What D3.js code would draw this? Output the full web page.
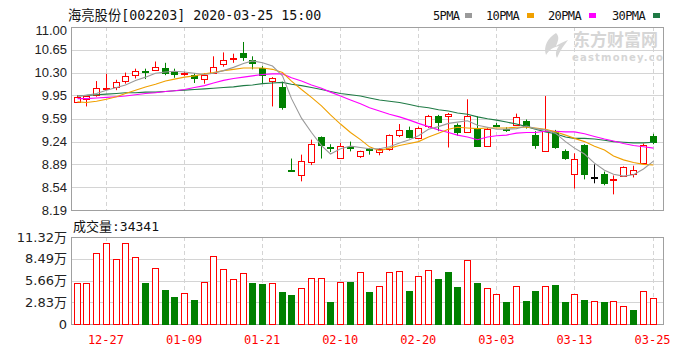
<!DOCTYPE html>
<html>
<head>
<meta charset="utf-8">
<script src="https://cdnjs.cloudflare.com/ajax/libs/d3/7.8.5/d3.min.js"></script>
<style>
  body { margin: 0; background: #fff; }
  svg { display: block; }
</style>
</head>
<body>
<script>
// ---- data ----
var dates = ["12-24","12-25","12-26","12-27","12-30","12-31","01-02","01-03","01-06","01-07",
             "01-08","01-09","01-10","01-13","01-14","01-15","01-16","01-17","01-20","01-21",
             "01-22","01-23","02-03","02-04","02-05","02-06","02-07","02-10","02-11","02-12",
             "02-13","02-14","02-17","02-18","02-19","02-20","02-21","02-24","02-25","02-26",
             "02-27","02-28","03-02","03-03","03-04","03-05","03-06","03-09","03-10","03-11",
             "03-12","03-13","03-16","03-17","03-18","03-19","03-20","03-23","03-24","03-25"];
var open  = [9.86,9.89,9.96,10.05,10.08,10.18,10.27,10.32,10.33,10.37,
             10.33,10.27,10.27,10.21,10.30,10.43,10.51,10.60,10.50,10.37,
             10.17,10.08,8.80,8.74,8.92,9.31,9.15,9.00,9.16,9.01,
             9.12,9.08,9.13,9.35,9.42,9.29,9.47,9.64,9.64,9.50,
             9.39,9.43,9.17,9.50,9.44,9.50,9.55,9.34,9.10,9.40,
             9.10,8.75,9.19,8.70,8.74,8.65,8.71,8.75,8.91,9.33];
var high  = [9.95,9.95,10.17,10.28,10.19,10.30,10.36,10.36,10.47,10.45,
             10.36,10.31,10.29,10.29,10.55,10.61,10.59,10.77,10.55,10.40,
             10.23,10.16,8.98,9.04,9.27,9.32,9.20,9.22,9.24,9.10,
             9.14,9.14,9.35,9.51,9.47,9.47,9.65,9.65,9.68,9.52,
             9.89,9.63,9.45,9.53,9.46,9.67,9.58,9.40,9.94,9.42,
             9.12,9.06,9.20,8.89,8.78,8.72,8.86,8.87,9.21,9.36];
var low   = [9.85,9.78,9.93,10.04,10.03,10.13,10.21,10.20,10.33,10.26,
             10.22,10.25,10.14,10.13,10.29,10.39,10.45,10.48,10.35,10.14,
             9.78,9.73,8.79,8.63,8.88,8.98,9.08,9.00,9.09,8.99,
             9.04,9.03,9.10,9.31,9.29,9.28,9.45,9.40,9.15,9.33,
             9.39,9.17,9.17,9.47,9.39,9.50,9.44,9.13,9.10,9.13,
             8.96,8.52,8.66,8.60,8.57,8.43,8.70,8.69,8.90,9.20];
var close = [9.93,9.94,10.06,10.06,10.16,10.25,10.33,10.31,10.38,10.29,
             10.28,10.29,10.22,10.27,10.39,10.49,10.52,10.54,10.45,10.26,
             10.21,9.77,8.79,8.95,9.20,9.18,9.14,9.18,9.15,9.09,
             9.10,9.13,9.34,9.42,9.32,9.45,9.63,9.55,9.67,9.40,
             9.63,9.17,9.43,9.49,9.43,9.62,9.47,9.19,9.40,9.16,
             8.99,8.98,8.74,8.70,8.60,8.67,8.85,8.81,9.19,9.24];
var ma5   = [9.94,9.95,9.98,10.03,10.07,10.11,10.18,10.23,10.29,10.31,
             10.32,10.31,10.29,10.27,10.29,10.33,10.38,10.44,10.48,10.45,
             10.40,10.25,9.90,9.60,9.38,9.18,9.05,9.13,9.17,9.15,
             9.13,9.13,9.16,9.22,9.27,9.33,9.43,9.47,9.52,9.54,
             9.56,9.49,9.46,9.43,9.43,9.44,9.48,9.44,9.42,9.37,
             9.24,9.14,9.05,8.91,8.80,8.74,8.71,8.73,8.82,8.94];
var ma10  = [9.85,9.84,9.86,9.89,9.93,9.98,10.03,10.08,10.12,10.17,
             10.20,10.23,10.25,10.28,10.30,10.33,10.35,10.37,10.37,10.37,
             10.35,10.30,10.17,10.04,9.92,9.79,9.65,9.51,9.38,9.27,
             9.16,9.10,9.14,9.18,9.21,9.24,9.31,9.37,9.43,9.46,
             9.45,9.44,9.45,9.45,9.45,9.46,9.46,9.45,9.43,9.39,
             9.34,9.29,9.24,9.17,9.11,9.02,8.96,8.92,8.89,8.88];
var ma20  = [9.90,9.90,9.91,9.92,9.93,9.94,9.96,9.98,9.99,10.01,
             10.02,10.04,10.07,10.10,10.14,10.18,10.21,10.23,10.25,10.27,
             10.28,10.28,10.22,10.17,10.11,10.06,10.00,9.94,9.88,9.82,
             9.76,9.71,9.66,9.62,9.57,9.52,9.47,9.42,9.38,9.34,
             9.31,9.27,9.31,9.33,9.34,9.37,9.38,9.38,9.40,9.40,
             9.39,9.39,9.36,9.32,9.28,9.25,9.21,9.18,9.16,9.14];
var ma30  = [9.94,9.95,9.96,9.97,9.98,9.99,9.99,10.00,10.00,10.01,
             10.02,10.03,10.04,10.05,10.06,10.07,10.08,10.10,10.11,10.13,
             10.14,10.15,10.12,10.10,10.07,10.04,10.01,9.98,9.96,9.94,
             9.91,9.88,9.86,9.84,9.81,9.78,9.76,9.73,9.71,9.68,
             9.66,9.62,9.59,9.57,9.54,9.51,9.47,9.43,9.39,9.36,
             9.31,9.29,9.29,9.28,9.26,9.24,9.23,9.22,9.22,9.23];
// volume in 万 shares, and the colour the bar is drawn in (r = up, g = down)
var volume = [5.38,5.38,9.26,10.55,8.52,10.55,8.70,5.30,7.23,4.48,
              3.49,4.00,3.06,5.47,8.87,7.10,5.81,6.59,5.30,5.17,
              5.30,4.18,3.83,4.65,5.94,5.94,2.84,5.47,5.47,6.72,
              4.13,4.95,6.72,6.89,4.30,6.24,7.06,5.90,6.76,4.78,
              8.35,5.30,4.74,3.96,2.80,4.91,3.01,4.30,4.91,5.12,
              2.84,3.96,3.14,3.01,2.84,3.01,2.32,1.85,4.30,3.43];
var volDir = ["r","r","r","r","r","r","r","g","r","g",
              "g","r","g","r","r","r","r","r","g","g",
              "r","g","g","r","r","r","g","r","g","r",
              "g","r","r","r","g","r","r","g","g","g",
              "r","g","r","r","g","r","g","g","r","g",
              "g","r","g","r","g","r","r","g","r","r"];
var priceTicks = [8.19, 8.54, 8.89, 9.24, 9.59, 9.95, 10.30, 10.65, 11.00];
var volTicks   = [0, 2.83, 5.66, 8.49, 11.32];
var dateTicks  = ["12-27","01-09","01-21","02-10","02-20","03-03","03-13","03-25"];
var maNames    = ["5PMA", "10PMA", "20PMA", "30PMA"];
var lastVolume = 34341;

// ---- layout ----
var W = 700, H = 350;
var left = 71, right = 663;
var pTop = 27, pBot = 210, vTop = 237, vBot = 324;
var RED = "#ff0000", GREEN = "#008000";
var maColors = ["#9a9a9a", "#f0a000", "#ff00ff", "#1f7a45"];

var svg = d3.select("body").append("svg")
    .attr("width", W).attr("height", H)
    .style("font-family", "'DejaVu Sans', sans-serif");

var x = d3.scaleBand().domain(dates).range([71.8, 657.4]);
function cx(d) { return Math.round(x(d) + x.bandwidth() / 2); }
var y = d3.scaleLinear().domain([8.19, 11.00]).range([pBot, pTop]);
var yv = d3.scaleLinear().domain([0, 11.32]).range([vBot, vTop]);

// grid
var grid = svg.append("g").attr("stroke", "#d4d4d4").attr("stroke-width", 1);
grid.selectAll(".hp").data(priceTicks).enter().append("line")
    .attr("x1", left).attr("x2", right)
    .attr("y1", d => Math.round(y(d)) + 0.5).attr("y2", d => Math.round(y(d)) + 0.5);
grid.selectAll(".hv").data(volTicks).enter().append("line")
    .attr("x1", left).attr("x2", right)
    .attr("y1", d => Math.round(yv(d)) + 0.5).attr("y2", d => Math.round(yv(d)) + 0.5);
[[pTop, pBot], [vTop, vBot]].forEach(function(r) {
  grid.append("g").selectAll("line").data(dateTicks).enter().append("line")
      .attr("x1", d => cx(d) + 0.5).attr("x2", d => cx(d) + 0.5)
      .attr("y1", r[0]).attr("y2", r[1])
      .attr("stroke-dasharray", "4,3");
});

// watermark
var wm = svg.append("g").attr("fill", "#d6d6d6");
wm.append("path")
  .attr("d", "M556,33 C548,38 543,46 546,55 C549,50 553,47 559,46 C556,50 555,54 557,58 C560,50 565,44 568,40 C563,42 559,44 556,46 C558,41 560,37 556,33 Z");
wm.append("text").attr("x", 573).attr("y", 46)
  .style("font-family", "'Noto Sans CJK SC', sans-serif")
  .style("font-size", "17px").style("font-weight", "bold")
  .text("东方财富网");
wm.append("text").attr("x", 572).attr("y", 61)
  .style("font-size", "10px").style("font-weight", "bold").style("letter-spacing", "1.2px")
  .text("eastmoney.com");
svg.append("rect").attr("x", right + 0.5).attr("y", 28).attr("width", 30).attr("height", 40).attr("fill", "#fff");

// frames
svg.append("rect").attr("x", left + 0.5).attr("y", pTop + 0.5)
    .attr("width", right - left).attr("height", pBot - pTop)
    .attr("fill", "none").attr("stroke", "#a0a0a0");
svg.append("rect").attr("x", left + 0.5).attr("y", vTop + 0.5)
    .attr("width", right - left).attr("height", vBot - vTop)
    .attr("fill", "none").attr("stroke", "#a0a0a0");

// axes
var yAxis = svg.append("g").attr("transform", "translate(" + left + ",0)")
    .call(d3.axisLeft(y).tickValues(priceTicks).tickSize(0).tickPadding(4)
      .tickFormat(d3.format(".2f")));
var vAxis = svg.append("g").attr("transform", "translate(" + left + ",0)")
    .call(d3.axisLeft(yv).tickValues(volTicks).tickSize(0).tickPadding(4)
      .tickFormat(d => d === 0 ? "0" : d.toFixed(2) + "万"));
var xAxis = svg.append("g").attr("transform", "translate(0," + vBot + ")")
    .call(d3.axisBottom(x).tickValues(dateTicks).tickSize(0).tickPadding(11));
[yAxis, vAxis, xAxis].forEach(function(g) { g.select(".domain").remove(); });
yAxis.selectAll("text").style("font-size", "13px").attr("fill", "#222");
yAxis.selectAll(".tick").filter(d => d === 11.00).select("text").attr("dy", "0.6em");
vAxis.selectAll("text").style("font-size", "13px").attr("fill", "#222")
    .style("font-family", "'DejaVu Sans', 'Noto Sans CJK SC', sans-serif");
xAxis.selectAll("text").style("font-size", "12px").attr("fill", RED)
    .style("font-family", "'DejaVu Sans Mono', monospace");

// candles
var candles = svg.append("g").selectAll("g").data(dates).enter().append("g");
function col(i) { return close[i] > open[i] ? RED : close[i] < open[i] ? GREEN : "#000"; }
candles.append("line")
    .attr("x1", d => cx(d) + 0.5).attr("x2", d => cx(d) + 0.5)
    .attr("y1", (d, i) => y(high[i])).attr("y2", (d, i) => y(low[i]))
    .attr("stroke", (d, i) => col(i));
candles.append("rect")
    .attr("x", d => cx(d) - 2.5)
    .attr("y", (d, i) => Math.round(y(Math.max(open[i], close[i]))) + 0.5)
    .attr("width", 6)
    .attr("height", (d, i) => Math.max(1, Math.round(Math.abs(y(open[i]) - y(close[i])))))
    .attr("fill", (d, i) => close[i] > open[i] ? "#fff" : col(i))
    .attr("stroke", (d, i) => col(i));

// moving averages
var line = d3.line().x((v, i) => cx(dates[i]) + 0.5).y(v => y(v));
[ma30, ma20, ma10, ma5].forEach(function(s, k) {
  svg.append("path").attr("d", line(s)).attr("fill", "none")
     .attr("stroke", maColors[3 - k]).attr("stroke-width", 1.1);
});

// volume bars
svg.append("g").selectAll("rect").data(dates).enter().append("rect")
    .attr("x", d => cx(d) - 2.5)
    .attr("y", (d, i) => Math.round(yv(volume[i])) + 0.5)
    .attr("width", 6)
    .attr("height", (d, i) => vBot - Math.round(yv(volume[i])))
    .attr("fill", (d, i) => volDir[i] === "r" ? "#fff" : GREEN)
    .attr("stroke", (d, i) => volDir[i] === "r" ? RED : GREEN);

// title, legend, volume label
svg.append("text").attr("x", 68).attr("y", 20)
    .style("font-family", "'DejaVu Sans Mono', 'Noto Sans CJK SC', monospace")
    .style("font-size", "13.3px").attr("fill", "#111")
    .text("海亮股份[002203] 2020-03-25 15:00");
var legX = [433, 486, 548, 612];
var leg = svg.append("g").selectAll("g").data(maNames).enter().append("g")
    .attr("transform", (d, i) => "translate(" + legX[i] + ",0)");
leg.append("text").attr("y", 20)
    .style("font-family", "'DejaVu Sans Mono', monospace").style("font-size", "12px")
    .style("letter-spacing", "-0.6px").attr("fill", "#111")
    .text(d => d);
leg.append("rect").attr("x", (d, i) => i === 0 ? 32 : 41).attr("y", 13)
    .attr("width", 7).attr("height", 5)
    .attr("fill", (d, i) => maColors[i]);
svg.append("text").attr("x", 73).attr("y", 231)
    .style("font-family", "'DejaVu Sans Mono', 'Noto Sans CJK SC', monospace")
    .style("font-size", "13px").attr("fill", "#111")
    .text("成交量:" + lastVolume);
</script>
</body>
</html>
